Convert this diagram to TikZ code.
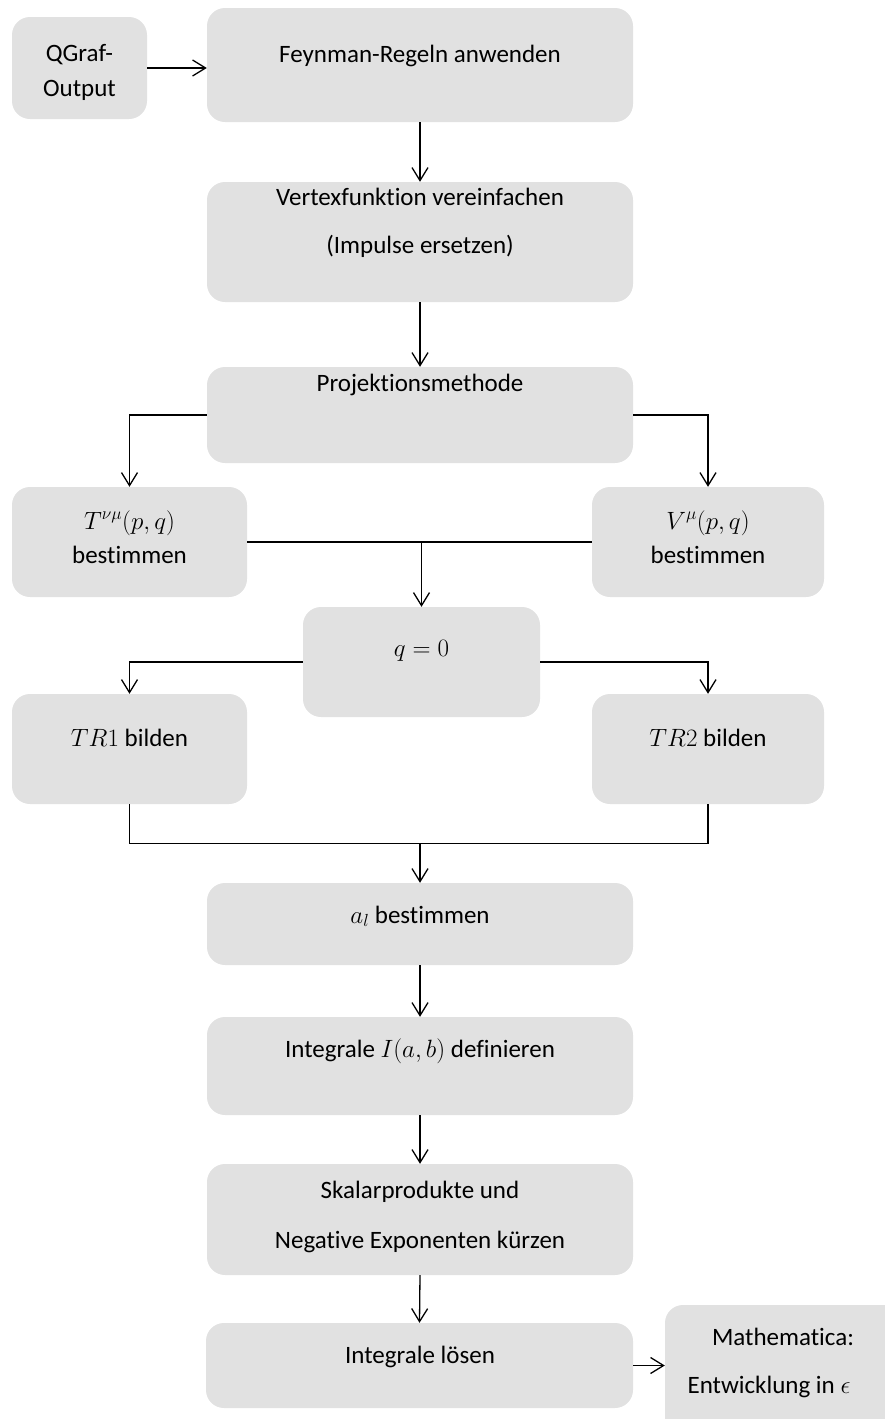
\RequirePackage{fix-cm}
\documentclass[tikz,border=0pt]{standalone}
\usepackage{fontspec}
\setmainfont{Carlito}[Ligatures=NoCommon]
\usetikzlibrary{arrows.meta,calc}
\definecolor{boxgray}{RGB}{225,225,225}
\begin{document}
\begin{tikzpicture}[x=1pt,y=-1pt,
  box/.style={fill=boxgray, rounded corners=18pt, inner sep=0pt, draw=none},
  lbl/.style={font=\fontsize{25}{30}\selectfont, inner sep=0pt, anchor=base},
  arr/.style={-{Straight Barb[length=13pt,width=16pt]}, line width=1.3pt},
  ln/.style={line width=1.3pt}]
\useasboundingbox (0,0) rectangle (884,1419);
% boxes
\node[box, minimum width=135pt, minimum height=102pt] (qgraf) at (79.5,68) {};
\node[box, minimum width=426pt, minimum height=114pt] (feyn) at (420,65) {};
\node[box, minimum width=426pt, minimum height=120pt] (vert) at (420,242) {};
\node[box, minimum width=426pt, minimum height=96pt] (proj) at (420,415) {};
\node[box, minimum width=235pt, minimum height=110pt] (tbox) at (129.5,542) {};
\node[box, minimum width=232pt, minimum height=110pt] (vbox) at (708,542) {};
\node[box, minimum width=237pt, minimum height=110pt] (qbox) at (421.5,662) {};
\node[box, minimum width=235pt, minimum height=110pt] (tr1) at (129.5,749) {};
\node[box, minimum width=232pt, minimum height=110pt] (tr2) at (708,749) {};
\node[box, minimum width=426pt, minimum height=82pt] (al) at (420,924) {};
\node[box, minimum width=426pt, minimum height=98pt] (intI) at (420,1066) {};
\node[box, minimum width=426pt, minimum height=111pt] (skal) at (420,1219.5) {};
\node[box, minimum width=427pt, minimum height=85pt] (los) at (419.5,1365.5) {};
\node[box, minimum width=240pt, minimum height=140pt] (math) at (785,1375) {};
% texts
\node[lbl] (tq1) at (79.5,61) {QGraf-};
\node[lbl] (tq2) at (79.5,96) {Output};
\node[lbl] (tf) at (420,62) {Feynman-Regeln anwenden};
\node[lbl] (tv1) at (420,205) {Vertexfunktion vereinfachen};
\node[lbl] (tv2) at (420,253) {(Impulse ersetzen)};
\node[lbl] (tp) at (420,391) {Projektionsmethode};
\node[lbl] (tt1) at (129.5,529) {$T^{\nu\mu}(p,q)$};
\node[lbl] (tt2) at (129.5,563) {bestimmen};
\node[lbl] (tw1) at (708,529) {$V^{\mu}(p,q)$};
\node[lbl] (tw2) at (708,563) {bestimmen};
\node[lbl] (tq) at (421.5,656) {$q=0$};
\node[lbl] (tr1t) at (129.5,746) {$TR1$ bilden};
\node[lbl] (tr2t) at (708,746) {$TR2$ bilden};
\node[lbl] (tal) at (420,923) {$a_l$ bestimmen};
\node[lbl] (tint) at (420,1057) {Integrale $I(a,b)$ definieren};
\node[lbl] (ts1) at (420,1198) {Skalarprodukte und};
\node[lbl] (ts2) at (420,1248) {Negative Exponenten kürzen};
\node[lbl] (tl) at (420,1363) {Integrale lösen};
\node[lbl] (tm1) at (783,1345) {Mathematica:};
\node[lbl] (tm2) at (769,1393) {Entwicklung in $\epsilon$};
% connectors
\draw[arr] (qgraf.east) -- (qgraf.east -| feyn.west);
\draw[arr] (feyn.south) -- (vert.north);
\draw[arr] (vert.south) -- (proj.north);
\draw[arr] (proj.west) -| (tbox.north);
\draw[arr] (proj.east) -| (vbox.north);
\draw[ln] (tbox.east) -- (vbox.west);
\coordinate (tv) at (tbox.east -| qbox.north);
\draw[arr] (tv) -- (qbox.north);
\draw[arr] (qbox.west) -| (tr1.north);
\draw[arr] (qbox.east) -| (tr2.north);
\coordinate (m1) at ($(tr1.south)+(0,39)$);
\coordinate (m2) at (m1 -| tr2.south);
\coordinate (mm) at (m1 -| al.north);
\draw[ln] (tr1.south) -- (m1) -- (m2) -- (tr2.south);
\draw[arr] (mm) -- (al.north);
\draw[arr] (al.south) -- (intI.north);
\draw[arr] (intI.south) -- (skal.north);
\draw[arr] (skal.south) -- (los.north);
\draw[arr] (los.east) -- (los.east -| math.west);
\end{tikzpicture}
\end{document}
